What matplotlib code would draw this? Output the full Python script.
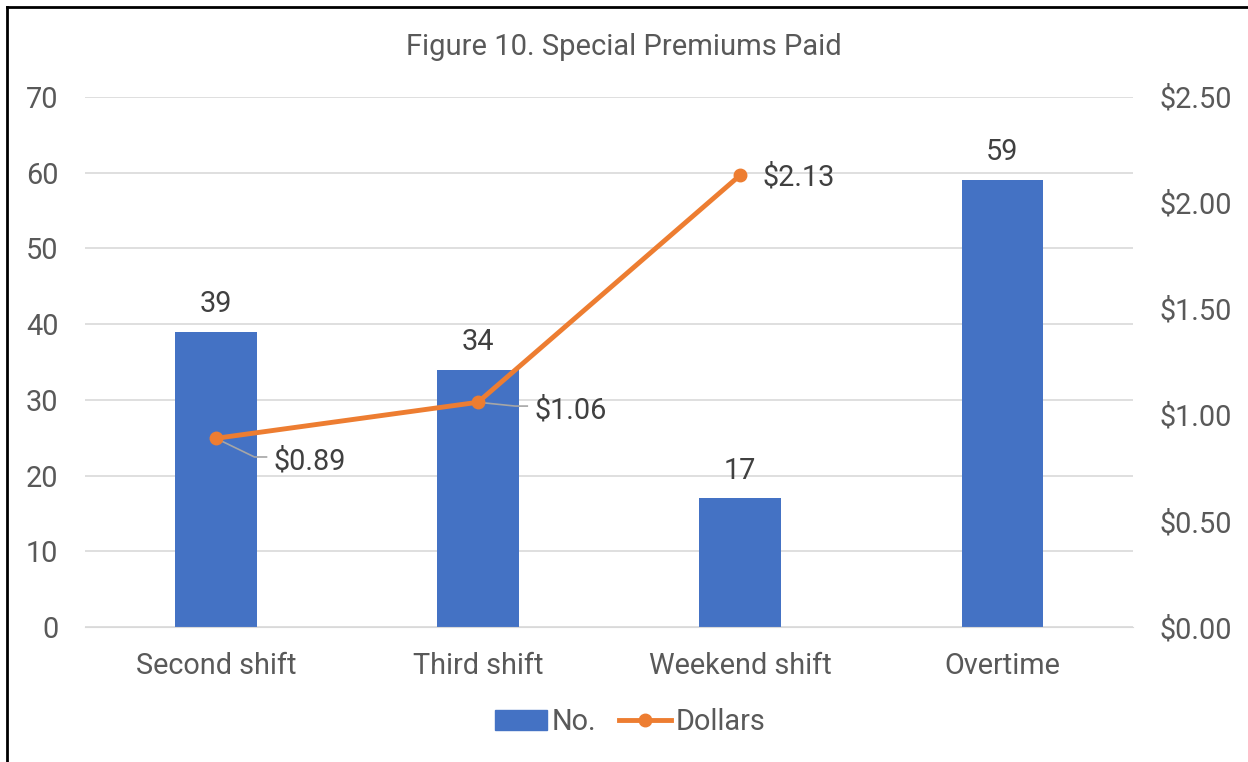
import matplotlib.pyplot as plt
import numpy as np
from matplotlib.lines import Line2D
from matplotlib.patches import Patch

categories = ["Second shift", "Third shift", "Weekend shift", "Overtime"]
counts = [39, 34, 17, 59]
dollars = [0.89, 1.06, 2.13, np.nan]
dollar_labels = ["$0.89", "$1.06", "$2.13"]

bar_color = "#4472C4"
line_color = "#ED7D31"
tick_color = "#595959"
label_color = "#404040"

plt.rcParams["font.family"] = ["Roboto", "DejaVu Sans"]
fs = 20.8

fig = plt.figure(figsize=(12.48, 7.62), dpi=100)
ax = fig.add_axes([0.068, 0.177, 0.84, 0.696])
ax2 = ax.twinx()

x = np.arange(len(categories))
ax.bar(x, counts, width=0.31, color=bar_color, zorder=2)
for xi, c in zip(x, counts):
    ax.text(xi, c + 1.8, str(c), ha="center", va="bottom", fontsize=fs, color=label_color)

ax.set_xlim(-0.5, 3.5)
ax.set_ylim(0, 70)
ax.set_yticks(range(0, 71, 10))
ax.set_xticks(x)
ax.set_xticklabels(categories)
ax.grid(axis="y", color="#D9D9D9", linewidth=1.2, zorder=0)
ax.set_axisbelow(True)
for s in ax.spines.values():
    s.set_visible(False)
ax.spines["bottom"].set_visible(True)
ax.spines["bottom"].set_color("#D9D9D9")
ax.tick_params(axis="both", length=0, labelsize=fs, colors=tick_color)
ax.tick_params(axis="y", pad=19)
ax.tick_params(axis="x", pad=18)

ax2.plot(x, dollars, color=line_color, linewidth=3.5, marker="o", markersize=9, zorder=3)
ax2.set_ylim(0, 2.5)
ax2.set_yticks(np.arange(0, 2.51, 0.5))
ax2.set_yticklabels([f"${v:.2f}" for v in np.arange(0, 2.51, 0.5)])
for s in ax2.spines.values():
    s.set_visible(False)
ax2.tick_params(axis="y", length=0, labelsize=fs, colors=tick_color, pad=19)

# data labels for the line, with leader lines on the first two
offsets = [(0.22, -0.108), (0.215, -0.038), (0.084, -0.01)]
for i, (lab, (dx, dy)) in enumerate(zip(dollar_labels, offsets)):
    tx, ty = x[i] + dx, dollars[i] + dy
    ax2.text(tx, ty, lab, ha="left", va="center", fontsize=fs, color=label_color)
    if i < 2:
        ax2.plot([x[i], tx - 0.073, tx - 0.027], [dollars[i], ty + 0.02, ty + 0.02],
                 color="#A6A6A6", linewidth=1.2, zorder=2.5)

handles = [Patch(color=bar_color, label="No."),
           Line2D([0], [0], color=line_color, linewidth=3.5, marker="o", markersize=9, label="Dollars")]
fig.legend(handles=handles, loc="center", bbox_to_anchor=(0.505, 0.052), ncol=2, frameon=False,
           fontsize=fs, labelcolor=tick_color, handlelength=1.8, handletextpad=0.15, columnspacing=0.8)

fig.text(0.5, 0.938, "Figure 10. Special Premiums Paid", ha="center", va="center",
         fontsize=21, color=tick_color)

# outer border (left and top edges visible)
fig.add_artist(Line2D([0.0056, 0.0056], [0, 0.991], color="black", linewidth=2, transform=fig.transFigure))
fig.add_artist(Line2D([0.0056, 1], [0.991, 0.991], color="black", linewidth=2, transform=fig.transFigure))

fig.savefig("out.png", dpi=100)
